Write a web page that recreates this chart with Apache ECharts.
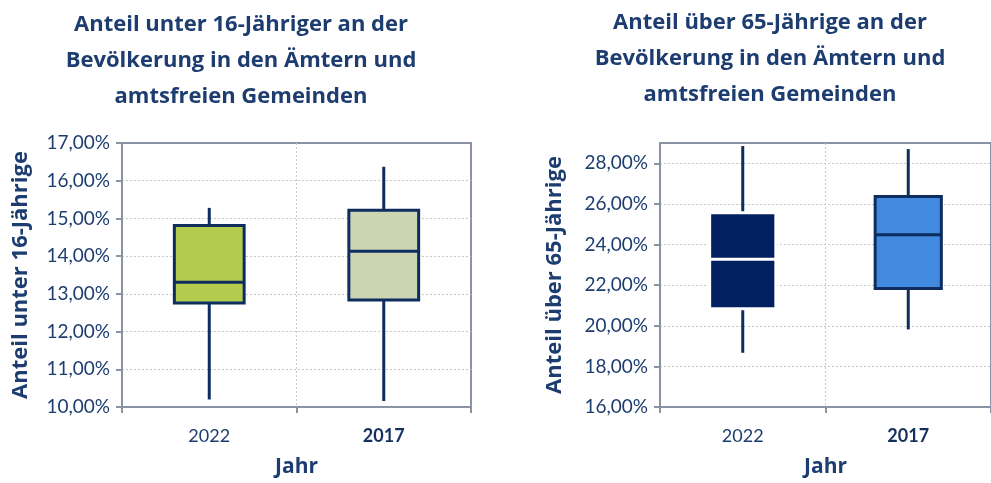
<!DOCTYPE html>
<html lang="de">
<head>
<meta charset="UTF-8">
<title>Anteil unter 16 / über 65</title>
<script src="https://cdn.jsdelivr.net/npm/echarts@6/dist/echarts.min.js"></script>
<style>
  html, body { margin: 0; padding: 0; background: #fff; }
  #chart { width: 991px; height: 483px; }
</style>
</head>
<body>
<div id="chart"></div>
<script>
// categories (x axis)
var years = ['2022', '2017'];

// unter 16-Jährige: [min, q1, median, q3, max] in %
var young2022 = [10.20, 12.76, 13.31, 14.81, 15.28];
var young2017 = [10.16, 12.84, 14.13, 15.22, 16.37];

// über 65-Jährige: [min, q1, median, q3, max] in %
var old2022 = [18.67, 20.84, 23.27, 25.57, 28.85];
var old2017 = [19.82, 21.84, 24.48, 26.36, 28.70];

var navy = '#0e2d5e';
var textColor = '#1d3d70';
var frame = '#8a93a3';

// look of each box (by chart, then by category)
var boxLook = [
    [ {fill: '#b3cc4e', stroke: navy, median: navy},
      {fill: '#cdd4b2', stroke: navy, median: navy} ],
    [ {fill: '#002060', stroke: '#ffffff', median: '#ffffff'},
      {fill: '#418ae0', stroke: navy, median: navy} ]
];

function pct(v) {
    return v.toFixed(2).replace('.', ',') + '%';
}

function makeRender(chartIdx) {
    return function (params, api) {
        var c = api.value(0);
        var lo = api.coord([c, api.value(1)]);
        var q1 = api.coord([c, api.value(2)]);
        var md = api.coord([c, api.value(3)]);
        var q3 = api.coord([c, api.value(4)]);
        var hi = api.coord([c, api.value(5)]);
        var half = api.size([1, 0])[0] * 0.2;
        var look = boxLook[chartIdx][c];
        var x = lo[0];
        return {
            type: 'group',
            children: [
                { type: 'line', shape: {x1: x, y1: hi[1], x2: x, y2: lo[1]},
                  style: {stroke: navy, lineWidth: 3} },
                { type: 'rect', shape: {x: x - half, y: q3[1], width: half * 2, height: q1[1] - q3[1]},
                  style: {fill: look.fill, stroke: look.stroke, lineWidth: 3} },
                { type: 'line', shape: {x1: x - half, y1: md[1], x2: x + half, y2: md[1]},
                  style: {stroke: look.median, lineWidth: 3} }
            ]
        };
    };
}

function rows(a, b) {
    return [[0].concat(a), [1].concat(b)];
}

var titleStyle = {fontFamily: 'Open Sans', fontWeight: 'bold', fontSize: 22, lineHeight: 36, color: textColor};
var yNameStyle = {fontFamily: 'Open Sans', fontWeight: 'bold', fontSize: 22, color: textColor};
var xNameStyle = {fontFamily: 'Open Sans', fontWeight: 'bold', fontSize: 21, color: textColor};

function xAxis(gridIndex) {
    return {
        type: 'category', gridIndex: gridIndex, data: years,
        name: 'Jahr', nameLocation: 'middle', nameGap: 50, nameTextStyle: xNameStyle,
        axisLine: {lineStyle: {color: frame, width: 2}},
        axisTick: {show: true, length: 6, lineStyle: {color: frame, width: 2}},
        splitLine: {show: true, showMinLine: false, showMaxLine: false,
                    lineStyle: {color: '#c8c8c8', type: [2, 2], width: 1}},
        axisLabel: {
            margin: 20,
            formatter: function (v) { return v === '2017' ? '{b|' + v + '}' : '{n|' + v + '}'; },
            rich: {
                n: {fontFamily: 'Lato', fontSize: 18, color: textColor},
                b: {fontFamily: 'Lato', fontSize: 18, fontWeight: 'bold', color: '#15305e'}
            }
        }
    };
}

function yAxis(gridIndex, name, min, max, step, gap) {
    return {
        type: 'value', gridIndex: gridIndex, min: min, max: max, interval: step,
        name: name, nameLocation: 'middle', nameRotate: 90, nameGap: gap, nameTextStyle: yNameStyle,
        axisLine: {show: true, lineStyle: {color: frame, width: 2}},
        axisTick: {show: true, length: 6, lineStyle: {color: frame, width: 2}},
        splitLine: {show: true, showMinLine: false, showMaxLine: false,
                    lineStyle: {color: '#c8c8c8', type: [2, 2], width: 1}},
        axisLabel: {
            margin: 12, fontFamily: 'Lato', fontSize: 19, color: textColor,
            showMaxLabel: max % step === 0,
            formatter: pct
        }
    };
}

var chart = echarts.init(document.getElementById('chart'), null, {renderer: 'canvas'});
chart.setOption({
    backgroundColor: '#ffffff',
    animation: false,
    title: [
        {text: 'Anteil unter 16-Jähriger an der\nBevölkerung in den Ämtern und\namtsfreien Gemeinden',
         left: 236, top: 2, textAlign: 'center', textStyle: titleStyle},
        {text: 'Anteil über 65-Jährige an der\nBevölkerung in den Ämtern und\namtsfreien Gemeinden',
         left: 765, top: 0, textAlign: 'center', textStyle: titleStyle}
    ],
    grid: [
        {left: 122, top: 143, width: 349, height: 264, show: true, borderColor: frame, borderWidth: 2},
        {left: 660, top: 143, width: 343, height: 264, show: true, borderColor: frame, borderWidth: 2}
    ],
    xAxis: [xAxis(0), xAxis(1)],
    yAxis: [
        yAxis(0, 'Anteil unter 16-Jährige', 10, 17, 1, 90),
        yAxis(1, 'Anteil über 65-Jährige', 16, 29, 2, 94)
    ],
    series: [
        {type: 'custom', xAxisIndex: 0, yAxisIndex: 0, renderItem: makeRender(0),
         encode: {x: 0, y: [1, 2, 3, 4, 5]}, data: rows(young2022, young2017)},
        {type: 'custom', xAxisIndex: 1, yAxisIndex: 1, renderItem: makeRender(1),
         encode: {x: 0, y: [1, 2, 3, 4, 5]}, data: rows(old2022, old2017)}
    ]
});
</script>
</body>
</html>
